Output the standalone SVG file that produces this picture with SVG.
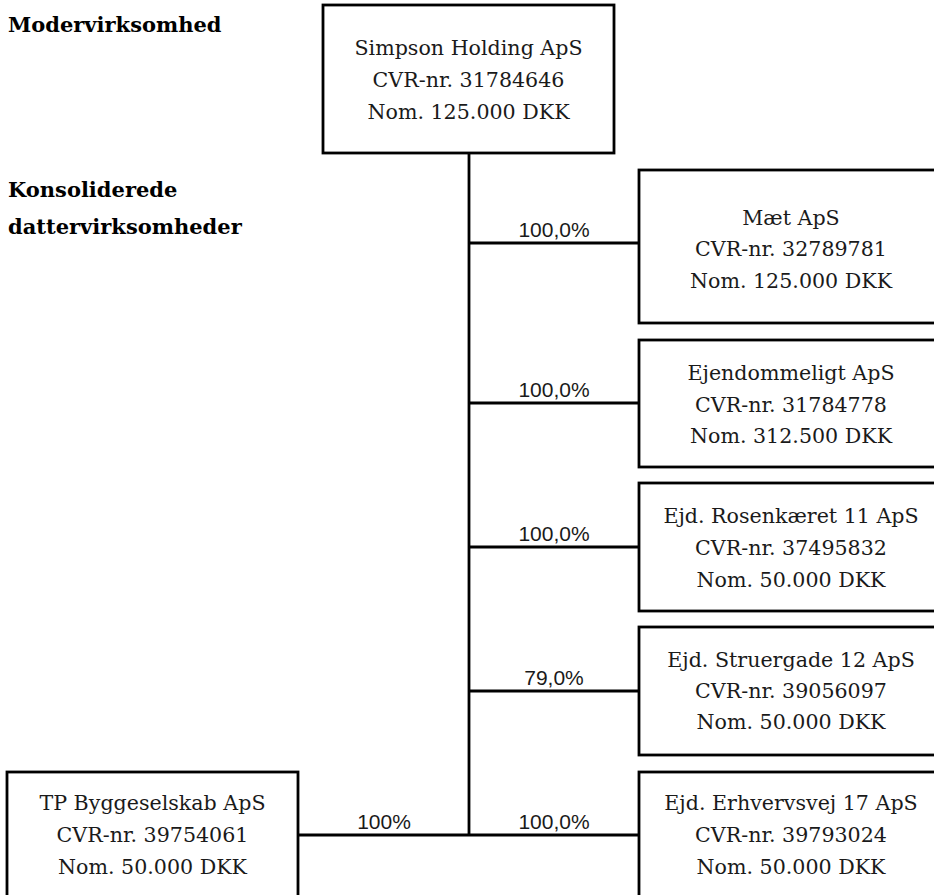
<svg xmlns="http://www.w3.org/2000/svg" width="934" height="895" viewBox="0 0 934 895">
<style>
.box{fill:#fff;stroke:#000;stroke-width:2.8}
.n{font-family:"DejaVu Serif","Liberation Serif",serif;font-size:20.6px;fill:#1a1a1a;text-anchor:middle}
.h{font-family:"DejaVu Serif","Liberation Serif",serif;font-size:21px;font-weight:bold;fill:#000}
.p{font-family:"Liberation Sans",Arial,sans-serif;font-size:21px;fill:#1a1a1a;text-anchor:middle}
.c{stroke:#000;stroke-width:2.8;fill:none}
</style>
<rect width="934" height="895" fill="#fff"/>
<g id="headings">
<text class="h" x="8" y="32">Modervirksomhed</text>
<text class="h" x="8" y="197">Konsoliderede</text>
<text class="h" x="8" y="234">dattervirksomheder</text>
</g>
<g id="connectors">
<path class="c" d="M469 153V835M469 243H639M469 403H639M469 547H639M469 691H639M298 835H639"/>
<text class="p" x="554" y="237">100,0%</text>
<text class="p" x="554" y="397">100,0%</text>
<text class="p" x="554" y="541">100,0%</text>
<text class="p" x="554" y="685">79,0%</text>
<text class="p" x="554" y="829">100,0%</text>
<text class="p" x="384" y="829">100%</text>
</g>
<g id="simpson">
<rect class="box" x="323" y="5" width="291" height="148"/>
<text class="n" x="468.5" y="55">Simpson Holding ApS</text>
<text class="n" x="468.5" y="87">CVR-nr. 31784646</text>
<text class="n" x="468.5" y="119">Nom. 125.000 DKK</text>
</g>
<g id="maet">
<rect class="box" x="639" y="170" width="310" height="153"/>
<text class="n" x="791" y="225">Mæt ApS</text>
<text class="n" x="791" y="256">CVR-nr. 32789781</text>
<text class="n" x="791" y="288">Nom. 125.000 DKK</text>
</g>
<g id="ejendommeligt">
<rect class="box" x="639" y="340" width="310" height="127"/>
<text class="n" x="791" y="380">Ejendommeligt ApS</text>
<text class="n" x="791" y="412">CVR-nr. 31784778</text>
<text class="n" x="791" y="443">Nom. 312.500 DKK</text>
</g>
<g id="rosenkaeret">
<rect class="box" x="639" y="483" width="310" height="128"/>
<text class="n" x="791" y="523">Ejd. Rosenkæret 11 ApS</text>
<text class="n" x="791" y="555">CVR-nr. 37495832</text>
<text class="n" x="791" y="587">Nom. 50.000 DKK</text>
</g>
<g id="struergade">
<rect class="box" x="639" y="627" width="310" height="128"/>
<text class="n" x="791" y="667">Ejd. Struergade 12 ApS</text>
<text class="n" x="791" y="698">CVR-nr. 39056097</text>
<text class="n" x="791" y="729">Nom. 50.000 DKK</text>
</g>
<g id="erhvervsvej">
<rect class="box" x="639" y="772" width="310" height="140"/>
<text class="n" x="791" y="810">Ejd. Erhvervsvej 17 ApS</text>
<text class="n" x="791" y="842">CVR-nr. 39793024</text>
<text class="n" x="791" y="874">Nom. 50.000 DKK</text>
</g>
<g id="tp">
<rect class="box" x="7" y="772" width="291" height="140"/>
<text class="n" x="152.5" y="810">TP Byggeselskab ApS</text>
<text class="n" x="152.5" y="842">CVR-nr. 39754061</text>
<text class="n" x="152.5" y="874">Nom. 50.000 DKK</text>
</g>
</svg>
